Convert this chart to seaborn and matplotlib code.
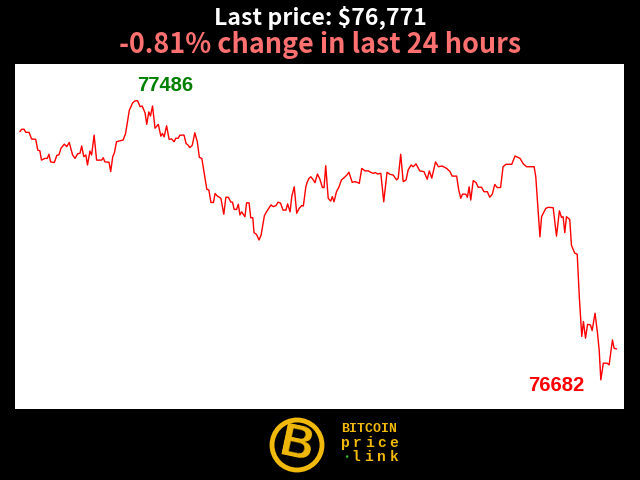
import pandas as pd
import seaborn as sns
import matplotlib.pyplot as plt
from matplotlib.patches import Circle

# minutes since start of the 24h window, and the price at that time
minutes = [0, 4, 10, 14, 22, 28, 38, 43, 48, 52, 60, 66, 70, 74, 83, 89, 94, 99, 107, 113,
           119, 127, 133, 139, 145, 149, 154, 159, 163, 169, 173, 179, 185, 197, 201, 205, 215, 219, 224, 228,
           233, 249, 255, 264, 272, 278, 284, 290, 295, 302, 306, 311, 315, 320, 326, 334, 340, 344, 348, 354,
           360, 366, 372, 376, 382, 386, 396, 401, 406, 410, 416, 422, 428, 433, 439, 451, 456, 461, 467, 471,
           476, 485, 492, 497, 503, 509, 513, 517, 523, 527, 531, 535, 543, 547, 553, 557, 562, 565, 571, 577,
           582, 590, 595, 606, 611, 618, 623, 629, 635, 642, 646, 652, 656, 662, 668, 674, 680, 684, 690, 693,
           698, 702, 708, 712, 718, 724, 730, 734, 738, 744, 750, 754, 758, 764, 770, 776, 783, 789, 794, 802,
           808, 814, 819, 825, 833, 841, 846, 853, 858, 863, 871, 878, 886, 893, 901, 909, 913, 919, 925, 932,
           937, 944, 949, 956, 965, 975, 983, 988, 994, 1003, 1010, 1019, 1030, 1038, 1043, 1054, 1059, 1064, 1068, 1076,
           1080, 1084, 1088, 1094, 1101, 1106, 1114, 1120, 1128, 1134, 1140, 1146, 1152, 1160, 1166, 1173, 1187, 1195, 1207, 1215,
           1223, 1241, 1245, 1255, 1259, 1269, 1275, 1287, 1295, 1302, 1307, 1311, 1315, 1319, 1327, 1331, 1339, 1345, 1350, 1356,
           1360, 1365, 1370, 1377, 1381, 1388, 1394, 1398, 1402, 1408, 1417, 1422, 1430, 1434, 1440]
prices = [77397, 77404, 77404, 77395, 77395, 77376, 77375, 77344, 77342, 77315, 77320, 77320, 77332, 77310, 77308, 77329, 77330, 77349, 77361, 77354,
          77366, 77330, 77320, 77333, 77335, 77356, 77325, 77330, 77301, 77341, 77330, 77387, 77315, 77315, 77322, 77310, 77309, 77282, 77325, 77336,
          77368, 77373, 77392, 77459, 77480, 77486, 77486, 77469, 77471, 77451, 77418, 77454, 77442, 77471, 77407, 77418, 77384, 77392, 77382, 77414,
          77375, 77376, 77368, 77378, 77378, 77387, 77387, 77363, 77358, 77351, 77358, 77394, 77368, 77323, 77320, 77231, 77229, 77193, 77193, 77219,
          77212, 77205, 77159, 77208, 77208, 77194, 77194, 77173, 77173, 77188, 77157, 77166, 77152, 77192, 77192, 77149, 77149, 77106, 77101, 77085,
          77099, 77155, 77166, 77186, 77181, 77184, 77194, 77191, 77171, 77171, 77189, 77166, 77210, 77238, 77162, 77176, 77184, 77183, 77238, 77251,
          77263, 77267, 77258, 77250, 77275, 77260, 77236, 77236, 77299, 77205, 77197, 77210, 77195, 77224, 77238, 77258, 77265, 77272, 77280, 77251,
          77253, 77251, 77248, 77291, 77284, 77284, 77280, 77277, 77279, 77275, 77277, 77195, 77280, 77274, 77272, 77258, 77263, 77332, 77253, 77258,
          77287, 77301, 77296, 77304, 77284, 77282, 77260, 77284, 77263, 77310, 77296, 77298, 77291, 77282, 77269, 77269, 77229, 77205, 77217, 77217,
          77208, 77238, 77200, 77256, 77250, 77237, 77237, 77224, 77224, 77208, 77217, 77245, 77236, 77236, 77296, 77303, 77303, 77327, 77320, 77304,
          77296, 77296, 77267, 77094, 77152, 77176, 77179, 77178, 77096, 77169, 77150, 77152, 77106, 77152, 77144, 77070, 77047, 77044, 76922, 76807,
          76850, 76802, 76842, 76840, 76824, 76874, 76816, 76768, 76682, 76730, 76730, 76725, 76797, 76773, 76771]

last_price = "$76,771"
change_text = "-0.81% change in last 24 hours"

df = pd.DataFrame({"minute": minutes, "price": prices})

sns.set_style("white")
plt.rcParams['font.family'] = ['Noto Sans CJK SC', 'DejaVu Sans']

fig = plt.figure(figsize=(6.4, 4.8), dpi=100, facecolor="black")
ax = fig.add_axes([0.0234, 0.1479, 0.9523, 0.7188])
ax.set_facecolor("white")

sns.lineplot(data=df, x="minute", y="price", color="#ff0000", linewidth=1.0, ax=ax)

ax.set_xlim(-12, 1459)
ax.set_ylim(76598, 77592)
ax.set_xticks([])
ax.set_yticks([])
ax.set_xlabel("")
ax.set_ylabel("")
for s in ax.spines.values():
    s.set_visible(False)

# high / low labels
i_max = df["price"].idxmax()
i_min = df["price"].idxmin()
ax.annotate(str(df["price"][i_max]), (df["minute"][i_max], df["price"][i_max]),
            xytext=(2, 10), textcoords="offset pixels", ha="left", va="baseline",
            color="#008000", fontsize=14.5, fontweight="bold", family="Liberation Sans")
ax.annotate(str(df["price"][i_min]), (df["minute"][i_min], df["price"][i_min]),
            xytext=(-16, -11), textcoords="offset pixels", ha="right", va="baseline",
            color="#ff0000", fontsize=14.5, fontweight="bold", family="Liberation Sans")

# titles
fig.text(0.5, 1 - 25 / 480, "Last price: " + last_price, ha="center", va="baseline",
         color="white", fontsize=16.6, fontweight="bold")
fig.text(0.5, 1 - 53 / 480, change_text, ha="center", va="baseline",
         color="#ff7070", fontsize=19.4, fontweight="bold")

# logo
gold = "#f0b90b"
lax = fig.add_axes([0, 0, 1, 0.14])
lax.set_xlim(0, 640)
lax.set_ylim(480, 480 - 0.14 * 480)
lax.axis("off")
lax.add_patch(Circle((297, 445), 25, facecolor="black", edgecolor=gold, linewidth=3.5))
lax.text(297, 446, "B", ha="center", va="center", color=gold, fontsize=33,
         fontweight="bold", family="Liberation Sans", rotation=-12)
lax.text(341, 429, "BITCOIN", ha="left", va="center", color=gold, fontsize=9.5,
         fontweight="bold", family="Liberation Mono")
for k, ch in enumerate("price"):
    lax.text(345 + k * 12.2, 443, ch, ha="center", va="center", color=gold, fontsize=10.5,
             fontweight="bold", family="Liberation Mono")
lax.text(346, 457, "•", ha="center", va="center", color="#2eb82e", fontsize=9)
for k, ch in enumerate("link"):
    lax.text(356 + k * 12.6, 457, ch, ha="center", va="center", color=gold, fontsize=10.5,
             fontweight="bold", family="Liberation Mono")

fig.savefig("out.png", dpi=100, facecolor="black")
